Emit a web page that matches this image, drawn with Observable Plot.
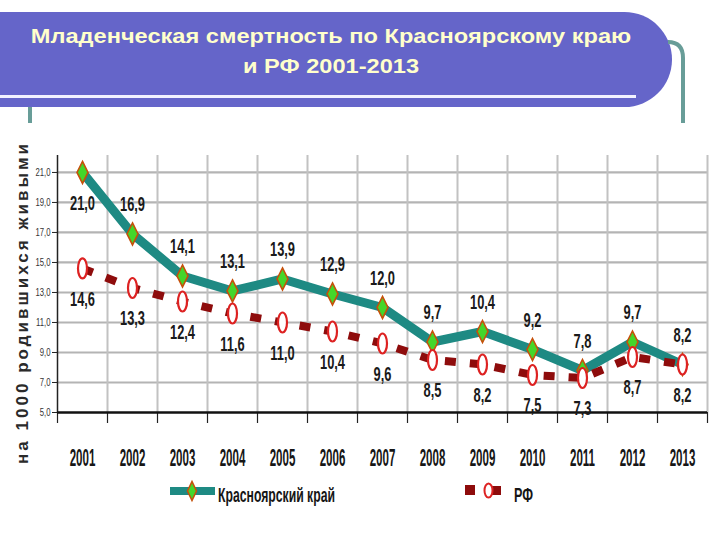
<!DOCTYPE html>
<html><head><meta charset="utf-8">
<script src="https://cdn.jsdelivr.net/npm/d3@7"></script>
<script src="https://cdn.jsdelivr.net/npm/@observablehq/plot@0.6"></script>
<style>
body{margin:0;background:#fff;}
#wrap{position:relative;width:720px;height:540px;overflow:hidden;font-family:"Liberation Sans",Arial,sans-serif;background:#fff;}
#banner{position:absolute;left:0;top:12px;width:672px;height:95px;background:#6565c9;border-radius:0 48px 48px 0;}
#bannerLine{position:absolute;left:0;top:95px;width:636px;height:3px;background:#f2f2ff;}
#title{position:absolute;left:0;top:21px;width:662px;text-align:center;color:#ffffcc;font-weight:bold;font-size:20px;line-height:30px;transform:scaleX(1.18);transform-origin:331px 0;}
#deco{position:absolute;left:0;top:0;}
#chart{position:absolute;left:0;top:130px;}
</style></head><body>
<div id="wrap">
  <div id="banner"></div>
  <div id="bannerLine"></div>
  <div id="title">Младенческая смертность по Красноярскому краю<br>и РФ 2001-2013</div>
  <div id="chart"></div>
  <svg id="deco" width="720" height="540" style="pointer-events:none"></svg>
</div>
<script>
// ---- data ----
const years = [2001, 2002, 2003, 2004, 2005, 2006, 2007, 2008, 2009, 2010, 2011, 2012, 2013];
const krasnoyarsk = [21.0, 16.9, 14.1, 13.1, 13.9, 12.9, 12.0, 9.7, 10.4, 9.2, 7.8, 9.7, 8.2];
const rf = [14.6, 13.3, 12.4, 11.6, 11.0, 10.4, 9.6, 8.5, 8.2, 7.5, 7.3, 8.7, 8.2];
const yTicks = [5, 7, 9, 11, 13, 15, 17, 19, 21];
const seriesNames = ["Красноярский край", "РФ"];
const yLabel = "на 1000 родившихся живыми";

// ---- derived tables ----
const kData = years.map((year, i) => ({year, value: krasnoyarsk[i]}));
const rfData = years.map((year, i) => ({year, value: rf[i]}));
const boundaries = [years[0] - 0.5, ...years.map(y => y + 0.5)];
const fmt = v => v.toFixed(1).replace(".", ",");

const teal = "#1e8a83";
const darkRed = "#8e0c0c";

function ellipseSymbol(ax, ay) {
  return {draw(ctx, size) {
    const r = Math.sqrt(size / Math.PI), rx = r * ax, ry = r * ay, k = 0.5523;
    ctx.moveTo(rx, 0);
    ctx.bezierCurveTo(rx, ry * k, rx * k, ry, 0, ry);
    ctx.bezierCurveTo(-rx * k, ry, -rx, ry * k, -rx, 0);
    ctx.bezierCurveTo(-rx, -ry * k, -rx * k, -ry, 0, -ry);
    ctx.bezierCurveTo(rx * k, -ry, rx, -ry * k, rx, 0);
    ctx.closePath();
  }};
}
function diamondSymbol(ax, ay) {
  return {draw(ctx, size) {
    const r = Math.sqrt(size / Math.PI), rx = r * ax, ry = r * ay;
    ctx.moveTo(0, -ry); ctx.lineTo(rx, 0); ctx.lineTo(0, ry); ctx.lineTo(-rx, 0); ctx.closePath();
  }};
}

const plot = Plot.plot({
  width: 720, height: 340,
  marginLeft: 57, marginRight: 13, marginTop: 25, marginBottom: 58,
  style: {fontFamily: "'Liberation Sans', Arial, sans-serif", background: "transparent", overflow: "visible"},
  x: {type: "linear", domain: [2000.5, 2013.5], axis: null},
  y: {domain: [5, 22.13], axis: null},
  marks: [
    Plot.ruleY(yTicks.filter(v => v > 5), {stroke: "#b4b4b4", strokeWidth: 2.2}),
    Plot.ruleX(boundaries.slice(1), {stroke: "#c2c2c2", strokeWidth: 2}),
    Plot.ruleX(boundaries.slice(0, 1), {stroke: "#222", strokeWidth: 1.5}),
    Plot.axisY({ticks: yTicks, tickFormat: fmt, tickSize: 5, tickPadding: 2, fontSize: 11, fill: "#333", stroke: "#222", label: null}),
    Plot.ruleX(boundaries, {y1: 5, y2: 5, insetBottom: -11, stroke: "#222", strokeWidth: 1.2}),
    Plot.axisX({ticks: years, tickSize: 0, tickPadding: 36, fontSize: 24, fontWeight: "bold", fill: "#161616", tickFormat: d => String(d), label: null}),
    Plot.ruleY([5], {stroke: "#111", strokeWidth: 2.6}),
    Plot.text([yLabel], {frameAnchor: "left", textAnchor: "middle", rotate: -90, dx: -35, dy: 20, fontSize: 17, fontWeight: "bold", fill: "#2a2a2a", ariaDescription: "ylabel"}),
    Plot.line(kData, {x: "year", y: "value", stroke: teal, strokeWidth: 9, strokeLinejoin: "round"}),
    Plot.dot(kData, {x: "year", y: "value", symbol: diamondSymbol(0.5, 1), r: 11, fill: "#44d62a", stroke: "#c6500a", strokeWidth: 1.6}),
    Plot.line(rfData, {x: "year", y: "value", stroke: darkRed, strokeWidth: 8, strokeDasharray: "11,14", strokeLinecap: "butt"}),
    Plot.dot(rfData, {x: "year", y: "value", symbol: ellipseSymbol(0.45, 1), r: 10, fill: "white", stroke: "#dd2222", strokeWidth: 2.2}),
    Plot.text(kData.slice(1), {x: "year", y: "value", text: d => fmt(d.value), dy: -29, fontSize: 19.5, fontWeight: "bold", fill: "#1a1a1a", ariaDescription: "vlabel"}),
    Plot.text(kData.slice(0, 1), {x: "year", y: "value", text: d => fmt(d.value), dy: 31, fontSize: 19.5, fontWeight: "bold", fill: "#1a1a1a", ariaDescription: "vlabel"}),
    Plot.text(rfData, {x: "year", y: "value", text: d => fmt(d.value), dy: 31, fontSize: 19.5, fontWeight: "bold", fill: "#1a1a1a", ariaDescription: "vlabel"})
  ]
});
document.getElementById("chart").appendChild(plot);

function squeeze(sel, factor, adjust) {
  plot.querySelectorAll(sel).forEach(t => {
    const len = t.getComputedTextLength();
    if (len > 0) {
      t.setAttribute("textLength", typeof factor === "function" ? factor(len) : len * factor);
      t.setAttribute("lengthAdjust", adjust || "spacingAndGlyphs");
    }
  });
}
squeeze('g[aria-description="vlabel"] text', 0.66);
squeeze('g[aria-label="y-axis tick label"] text', 0.7);
squeeze('g[aria-label="x-axis tick label"] text', 0.48);
squeeze('g[aria-description="ylabel"] text', () => 320, "spacing");

// ---- decorations & legend ----
const deco = d3.select("#deco");
const decoColor = "#689d98";
deco.append("rect").attr("x", 28).attr("y", 107).attr("width", 4).attr("height", 16).attr("fill", decoColor);
deco.append("path").attr("d", "M668,42 Q683,42 683,58 L683,123").attr("fill", "none").attr("stroke", decoColor).attr("stroke-width", 4);

// legend: Krasnoyarsk
deco.append("line").attr("x1", 170).attr("x2", 215).attr("y1", 491).attr("y2", 491).attr("stroke", teal).attr("stroke-width", 8);
deco.append("path").attr("d", "M192,481.5 L196.5,491 L192,500.5 L187.5,491 Z").attr("fill", "#44d62a").attr("stroke", "#c6500a").attr("stroke-width", 1.6);
deco.append("text").attr("x", 218).attr("y", 502).attr("font-size", 21).attr("font-weight", "bold").attr("fill", "#161616")
  .attr("font-family", "'Liberation Sans', Arial, sans-serif").attr("textLength", 117).attr("lengthAdjust", "spacingAndGlyphs").text(seriesNames[0]);
// legend: RF
deco.append("rect").attr("x", 465).attr("y", 485).attr("width", 10).attr("height", 10).attr("fill", darkRed);
deco.append("rect").attr("x", 491).attr("y", 486).attr("width", 10).attr("height", 9).attr("fill", darkRed);
deco.append("ellipse").attr("cx", 488.5).attr("cy", 490.5).attr("rx", 4).attr("ry", 7).attr("fill", "white").attr("stroke", "#dd2222").attr("stroke-width", 2);
deco.append("text").attr("x", 514).attr("y", 502).attr("font-size", 21).attr("font-weight", "bold").attr("fill", "#161616")
  .attr("font-family", "'Liberation Sans', Arial, sans-serif").attr("textLength", 19).attr("lengthAdjust", "spacingAndGlyphs").text(seriesNames[1]);
</script>
</body></html>
